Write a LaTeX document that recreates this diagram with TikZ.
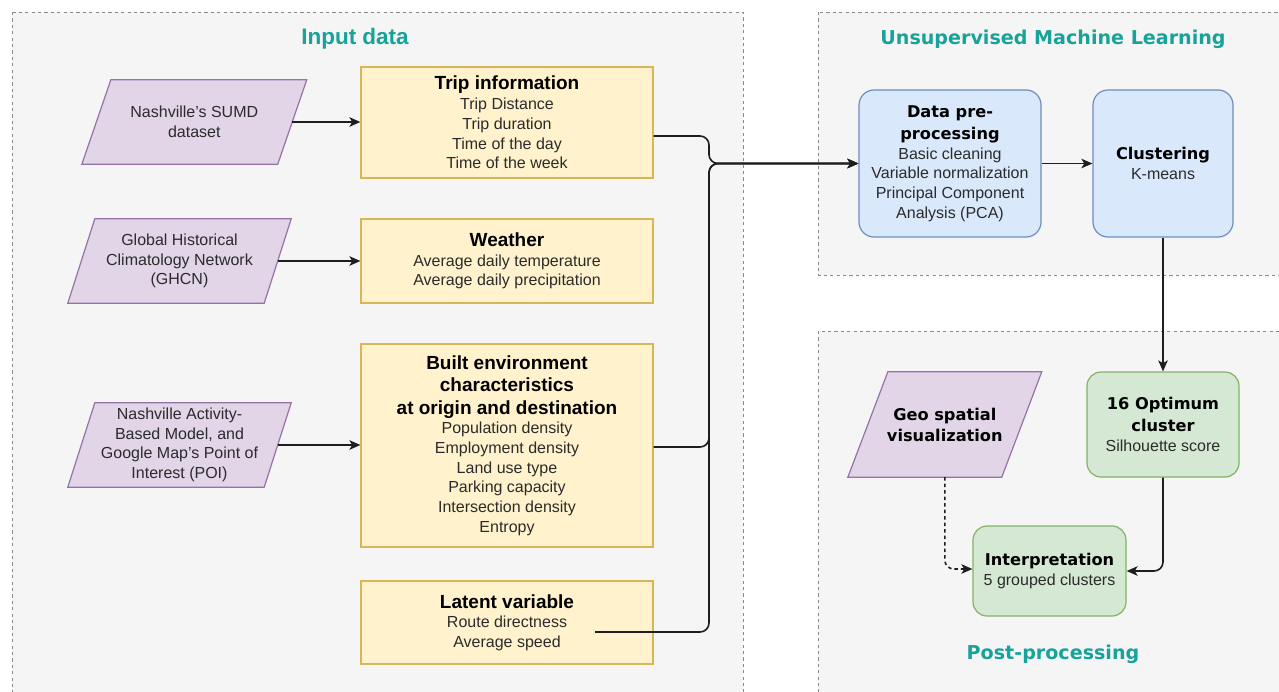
\documentclass[tikz,border=0pt]{standalone}
\usepackage{fontspec}
\setmainfont{Liberation Sans}
\newfontfamily\verdanalike{DejaVu Sans}
\usetikzlibrary{arrows.meta,calc}

\definecolor{panelbg}{HTML}{F5F5F5}
\definecolor{panelline}{HTML}{8A8A8A}
\definecolor{titlecol}{HTML}{17A29A}
\definecolor{yellowfill}{HTML}{FFF2CC}
\definecolor{yellowline}{HTML}{D6B656}
\definecolor{purplefill}{HTML}{E1D5E7}
\definecolor{purpleline}{HTML}{9673A6}
\definecolor{bluefill}{HTML}{DAE8FC}
\definecolor{blueline}{HTML}{6C8EBF}
\definecolor{greenfill}{HTML}{D5E8D4}
\definecolor{greenline}{HTML}{82B366}
\definecolor{bodytext}{HTML}{2B2B2B}
\definecolor{linkcol}{HTML}{1E1E1E}

% font switches
\newcommand\bodyf{\fontsize{16}{19.7}\selectfont}
\newcommand\lhead{\fontsize{19}{22}\selectfont\bfseries\color{black}}
\newcommand\rhead{\verdanalike\fontsize{16.2}{20}\selectfont\bfseries\color{black}}
\newcommand\apos{\char"0027\relax}

\pgfdeclarelayer{panels}
\pgfdeclarelayer{shapes}
\pgfsetlayers{panels,shapes,main}

\tikzset{
  panel/.style={fill=panelbg, draw=panelline, line width=0.9pt, dash pattern=on 3.2pt off 3.2pt},
  boxbase/.style={rectangle, align=center, inner sep=0pt, line width=1.2pt, font=\bodyf, text=bodytext},
  yellowbox/.style={boxbase, fill=yellowfill, draw=yellowline},
  bluebox/.style={boxbase, fill=bluefill, draw=blueline, rounded corners=15pt},
  greenbox/.style={boxbase, fill=greenfill, draw=greenline, rounded corners=14pt},
  paratext/.style={rectangle, align=center, inner sep=0pt, font=\bodyf, text=bodytext},
  paraframe/.style={fill=purplefill, draw=purpleline, line width=1.2pt},
  sectiontitle/.style={text=titlecol, inner sep=0pt},
  link/.style={draw=linkcol, line width=1.6pt, -{Stealth[length=11pt,width=9.5pt,inset=2.8pt]}},
  bus/.style={link, rounded corners=9pt},
}

% slanted frame drawn behind a named text node
\newcommand\slantframe[2]{%
  \begin{pgfonlayer}{shapes}
    \filldraw[paraframe] ($(#1.north west)+(#2,0)$) -- ($(#1.north east)+(#2,0)$)
      -- ($(#1.south east)-(#2,0)$) -- ($(#1.south west)-(#2,0)$) -- cycle;
  \end{pgfonlayer}}

\begin{document}
\begin{tikzpicture}[x=1pt,y=-1pt]
\useasboundingbox (0,0) rectangle (1279,691);

% section panels
\begin{pgfonlayer}{panels}
  \fill[white] (0,0) rectangle (1279,691);
  \clip (0,0) rectangle (1279,691);
  \path[panel] (12,12) rectangle (743,710);
  \path[panel] (818,12) rectangle (1300,275);
  \path[panel] (818,331) rectangle (1300,710);
\end{pgfonlayer}

% section titles
\node[sectiontitle, font=\fontsize{22.5}{26}\selectfont\bfseries] (tin) at (355,39) {Input data};
\node[sectiontitle, font=\verdanalike\fontsize{19.1}{23}\selectfont\bfseries] (tml) at (1053,39) {Unsupervised Machine Learning};
\node[sectiontitle, font=\verdanalike\fontsize{19.1}{23}\selectfont\bfseries] (tpost) at (1053,654) {Post-processing};

% data sources
\node[paratext, minimum width=195.5pt, minimum height=84pt] (sumd) at (194.3,122) {Nashville\apos s SUMD\\dataset};
\slantframe{sumd}{14.5pt}
\node[paratext, minimum width=196pt, minimum height=84pt] (ghcn) at (179.5,261) {Global Historical\\Climatology Network\\(GHCN)};
\slantframe{ghcn}{13.5pt}
\node[paratext, minimum width=196pt, minimum height=84pt] (poi) at (179.5,445) {Nashville Activity-\\Based Model, and\\Google Map\apos s Point of\\Interest (POI)};
\slantframe{poi}{13.5pt}

% input variables
\node[yellowbox, minimum width=292pt, minimum height=111pt] (trip) at (507,122.5)
  {{\lhead Trip information}\\Trip Distance\\Trip duration\\Time of the day\\Time of the week};
\node[yellowbox, minimum width=292pt, minimum height=84pt] (weather) at (507,261)
  {{\lhead Weather}\\Average daily temperature\\Average daily precipitation};
\node[yellowbox, minimum width=292pt, minimum height=203pt] (built) at (507,445.5)
  {{\lhead Built environment}\\[2.8pt]{\lhead characteristics}\\[2.8pt]{\lhead at origin and destination}\\Population density\\Employment density\\Land use type\\Parking capacity\\Intersection density\\Entropy};
\node[yellowbox, minimum width=292pt, minimum height=83pt] (latent) at (507,622.5)
  {{\lhead Latent variable}\\Route directness\\Average speed};

% machine learning
\node[bluebox, minimum width=182pt, minimum height=147pt] (pre) at (950,163.5)
  {{\rhead Data pre-}\\[2.3pt]{\rhead processing}\\Basic cleaning\\Variable normalization\\Principal Component\\Analysis (PCA)};
\node[bluebox, minimum width=140pt, minimum height=147pt] (clus) at (1163,163.5)
  {{\rhead Clustering}\\K-means};

% post-processing
\node[greenbox, minimum width=152pt, minimum height=105pt] (opt) at (1163,424.5)
  {{\rhead 16 Optimum}\\[2.3pt]{\rhead cluster}\\Silhouette score};
\node[greenbox, minimum width=153pt, minimum height=90pt] (interp) at (1049.5,571)
  {{\rhead Interpretation}\\5 grouped clusters};
\node[paratext, minimum width=153.5pt, minimum height=105pt] (geo) at (944.8,424.5)
  {{\rhead Geo spatial}\\[1.3pt]{\rhead visualization}};
\slantframe{geo}{20pt}

% connectors
\draw[link] (sumd.east) -- (sumd.east -| trip.west);
\draw[link] (ghcn.east) -- (ghcn.east -| weather.west);
\draw[link] (poi.east) -- (poi.east -| built.west);

\coordinate (merge) at (709,163.5);
\draw[bus] ($(trip.east)+(0,13.5)$) -| (merge) -- (pre.west);
\draw[bus] ($(built.east)+(0,1.5)$) -| (merge) -- (pre.west);
\draw[bus] ($(latent.center)+(88,9.5)$) -| (merge) -- (pre.west);

\draw[link] (pre.east) -- (clus.west);
\draw[link] (clus.south) -- (opt.north);
\draw[bus] (opt.south) |- (interp.east);
\draw[bus, dash pattern=on 3.5pt off 3pt] (geo.south) |- ($(interp.west)+(0,-2)$);
\end{tikzpicture}
\end{document}
